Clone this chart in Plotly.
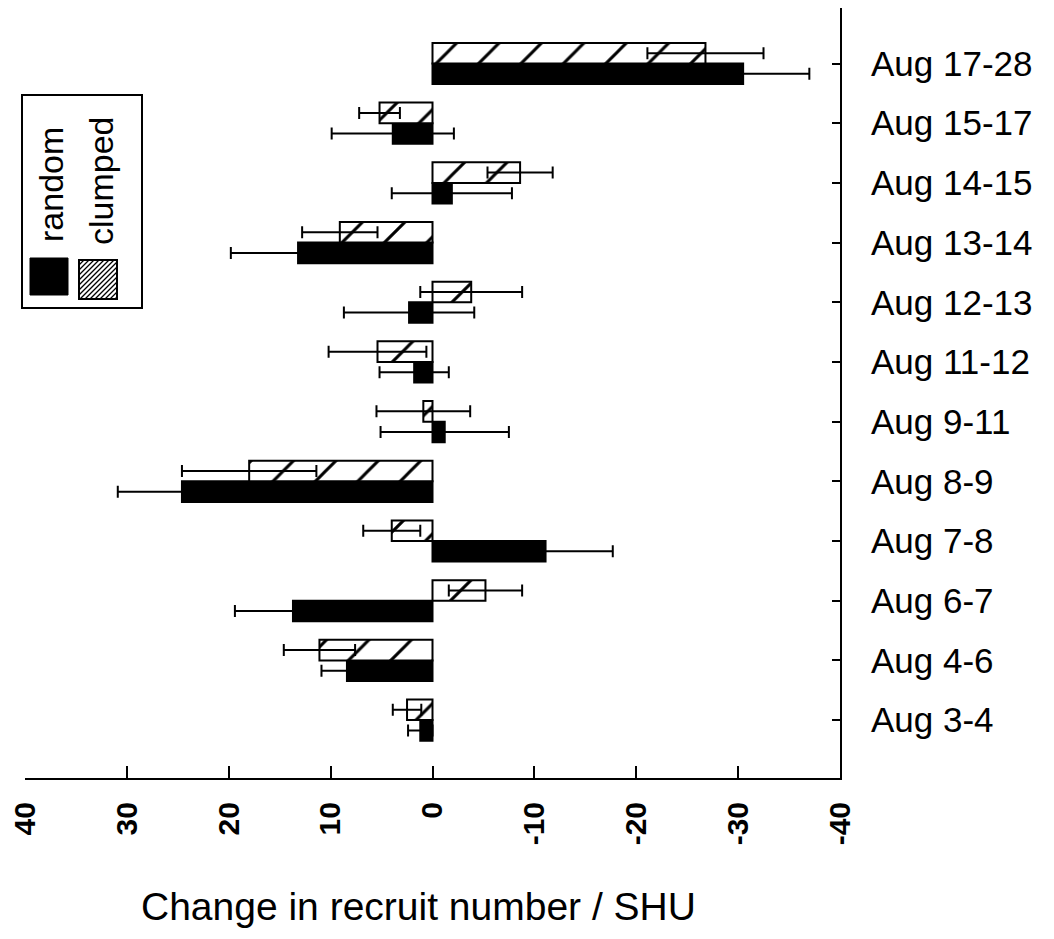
import plotly.graph_objects as go

categories = ["Aug 3-4", "Aug 4-6", "Aug 6-7", "Aug 7-8", "Aug 8-9", "Aug 9-11",
              "Aug 11-12", "Aug 12-13", "Aug 13-14", "Aug 14-15", "Aug 15-17", "Aug 17-28"]
random_vals = [1.2, 8.4, 13.7, -11.1, 24.6, -1.2, 1.8, 2.3, 13.2, -1.9, 3.9, -30.5]
random_err = [1.2, 2.5, 5.7, 6.6, 6.3, 6.3, 3.4, 6.4, 6.6, 5.9, 6.0, 6.5]
clumped_vals = [2.5, 11.1, -5.2, 4.0, 18.0, 0.9, 5.4, -3.8, 9.1, -8.6, 5.2, -26.8]
clumped_err = [1.4, 3.5, 3.6, 2.8, 6.6, 4.6, 4.8, 5.0, 3.7, 3.2, 2.0, 5.7]
x_ticks = [40, 30, 20, 10, 0, -10, -20, -30, -40]
x_ticktext = ["40", "30", "20", "10", "0", "-10", "-20", "-30", "-40"]

OFF = 8  # page body margin
W, H = 1054 - 2 * OFF, 939 - 2 * OFF
ML, MT = 25 - OFF, 0
PW, PH = 815, 778 - OFF
MR, MB = W - ML - PW, H - MT - PH
FONT = "Liberation Sans, Arial, sans-serif"


def px(x):
    return (x - OFF - ML) / PW


def py(y):
    return (MT + PH - (y - OFF)) / PH


fig = go.Figure()
fig.add_trace(go.Bar(
    name="random", y=categories, x=random_vals, orientation="h",
    marker=dict(color="black", line=dict(color="black", width=2)),
    error_x=dict(type="data", array=random_err, symmetric=True,
                 color="black", thickness=2, width=6),
    showlegend=False,
))
fig.add_trace(go.Bar(
    name="clumped", y=categories, x=clumped_vals, orientation="h",
    marker=dict(color="white", line=dict(color="black", width=2),
                pattern=dict(shape="/", fgcolor="#000000", bgcolor="white",
                             fgopacity=1, fillmode="replace",
                             size=30, solidity=0.1)),
    error_x=dict(type="data", array=clumped_err, symmetric=True,
                 color="black", thickness=2, width=6),
    showlegend=False,
))

shapes = []
annotations = []
# legend box
shapes.append(dict(type="rect", xref="paper", yref="paper",
                   x0=px(22), x1=px(142), y0=py(308), y1=py(95),
                   line=dict(color="black", width=2), fillcolor="white", layer="above"))
# black swatch
shapes.append(dict(type="rect", xref="paper", yref="paper",
                   x0=px(30), x1=px(68), y0=py(295), y1=py(258),
                   line=dict(color="black", width=1), fillcolor="black", layer="above"))
# hatched swatch
sx0, sx1, sy0, sy1 = 79, 117, 260, 299
shapes.append(dict(type="rect", xref="paper", yref="paper",
                   x0=px(sx0), x1=px(sx1), y0=py(sy1), y1=py(sy0),
                   line=dict(color="black", width=2), fillcolor="white", layer="above"))
step = 5
c = sx0 + sy0 + step
while c < sx1 + sy1:
    xa = max(sx0, c - sy1)
    xb = min(sx1, c - sy0)
    if xb > xa:
        shapes.append(dict(type="line", xref="paper", yref="paper",
                           x0=px(xa), y0=py(c - xa), x1=px(xb), y1=py(c - xb),
                           line=dict(color="black", width=1.2), layer="above"))
    c += step

annotations.append(dict(text="random", xref="paper", yref="paper",
                        x=px(51), y=py(185), textangle=-90, showarrow=False,
                        xanchor="center", yanchor="middle",
                        font=dict(family=FONT, size=34, color="black")))
annotations.append(dict(text="clumped", xref="paper", yref="paper",
                        x=px(101), y=py(181), textangle=-90, showarrow=False,
                        xanchor="center", yanchor="middle",
                        font=dict(family=FONT, size=34, color="black")))
annotations.append(dict(text="Change in recruit number / SHU", xref="paper", yref="paper",
                        x=px(418), y=py(907), showarrow=False,
                        xanchor="center", yanchor="middle",
                        font=dict(family=FONT, size=39, color="black")))

fig.update_layout(
    width=W, height=H,
    margin=dict(l=ML, r=MR, t=MT, b=MB, pad=0),
    paper_bgcolor="white", plot_bgcolor="white",
    barmode="group", bargap=0.31, bargroupgap=0.0,
    shapes=shapes, annotations=annotations,
    xaxis=dict(
        range=[40.01, -40.01], tickvals=x_ticks, ticktext=x_ticktext,
        tickangle=-90, ticks="inside", ticklen=12, tickwidth=2, tickcolor="black",
        showline=True, linecolor="black", linewidth=2, mirror=False,
        showgrid=False, zeroline=False, ticklabelstandoff=10,
        ticklabeloverflow="allow",
        tickfont=dict(family=FONT, size=30, color="black", weight="bold"),
    ),
    yaxis=dict(
        type="category", categoryorder="array", categoryarray=categories,
        range=[-0.97, 11.93], side="right",
        ticks="inside", ticklen=8, tickwidth=2, tickcolor="black",
        showline=True, linecolor="black", linewidth=2, mirror=False,
        showgrid=False, zeroline=False, ticklabelstandoff=22,
        tickfont=dict(family=FONT, size=35, color="black"),
    ),
)

fig.write_html("out.html")
